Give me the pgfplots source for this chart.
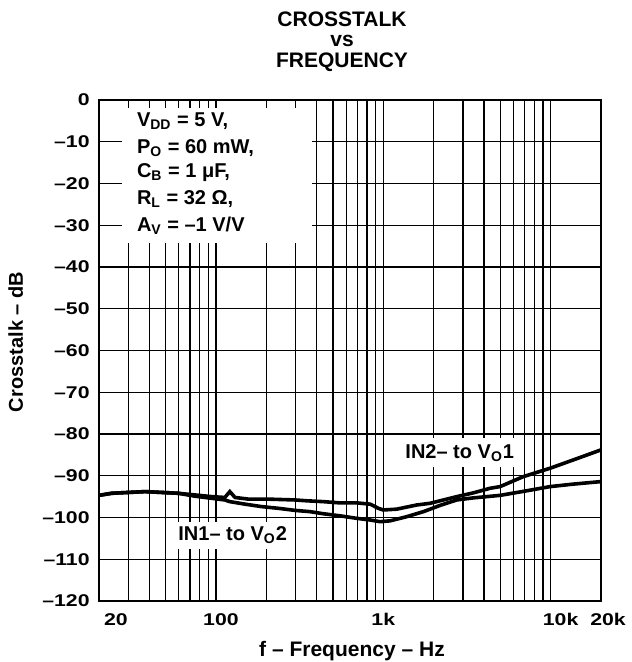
\documentclass[border=0pt]{standalone}
\usepackage{pgfplots}
\pgfplotsset{compat=1.18}
\usepackage{pgfplotstable}
\usepackage{fontspec}
\setmainfont{Liberation Sans}
\newfontfamily\tickfont{Liberation Sans}[FakeStretch=1.25]

% IN2- to VO1 (upper curve in the mid band, highest at 20 kHz)
\pgfplotstableread{
f y
20 -94.7
23.8 -94.2
29.9 -94.0
37.7 -93.8
47.4 -94.0
59.6 -94.2
75 -94.6
94.3 -95.0
113 -95.2
121 -93.8
130 -95.2
156 -95.6
206 -95.6
297 -95.8
349 -96.0
438 -96.2
551 -96.5
694 -96.5
834 -96.8
934 -97.8
1001 -98.2
1203 -98.0
1585 -97.0
1903 -96.6
2184 -96.0
2748 -95.0
3454 -94.1
4347 -93.0
4988 -92.6
6876 -90.2
9928 -88.2
13678 -86.2
20000 -83.8
}\curveA

% IN1- to VO2 (lower curve in the mid band)
\pgfplotstableread{
f y
20 -94.7
23.8 -94.2
29.9 -94.0
37.7 -93.8
47.4 -94.0
59.6 -94.2
75 -94.9
94.3 -95.4
113 -95.8
121 -96.2
149 -96.8
188 -97.4
236 -97.8
297 -98.3
365 -98.6
438 -99.1
551 -99.6
694 -100.2
834 -100.6
956 -101.0
1098 -100.8
1381 -99.8
1736 -98.6
2184 -97.1
2748 -95.8
3454 -95.3
4988 -94.7
7204 -93.6
9928 -92.6
13678 -92.0
20000 -91.4
}\curveB

\begin{document}
\begin{tikzpicture}
\useasboundingbox (-49.5pt,-30.5pt) rectangle (266pt,300.5pt);
\begin{axis}[
  at={(0,0)}, anchor=south west,
  scale only axis, width=251pt, height=250.5pt,
  xmode=log, xmin=20, xmax=20000, ymin=-120, ymax=0,
  xtick={20,100,1000,10000,20000},
  xticklabels={\makebox[0pt]{\hspace*{17pt}20},\makebox[0pt]{\hspace*{5pt}100},\makebox[0pt]{1k},\makebox[0pt]{\hspace*{10pt}10k},\makebox[0pt]{\hspace*{7pt}20k}},
  minor xtick={30,40,50,60,70,80,90,200,300,400,500,600,700,800,900,2000,3000,4000,5000,6000,7000,8000,9000},
  ytick={-120,-110,...,0},
  yticklabels={–120,–110,–100,–90,–80,–70,–60,–50,–40,–30,–20,–10,0},
  grid=both,
  major grid style={black, line width=0.65pt},
  minor grid style={black, line width=0.65pt},
  major tick length=0pt, minor tick length=0pt,
  axis line style={line width=1.2pt},
  tick label style={font=\tickfont\bfseries\fontsize{8.5}{8.5}\selectfont},
  xticklabel style={anchor=north, inner sep=0pt, yshift=-6pt},
  yticklabel style={anchor=east, inner sep=0pt, xshift=-4.5pt},
]
\fill[white] (axis cs:27.4,-34.3) rectangle (axis cs:375,-1.9);
\addplot[black, line width=1.8pt, mark=none] table[x=f, y=y] {\curveA};
\addplot[black, line width=1.8pt, mark=none] table[x=f, y=y] {\curveB};
\node[fill=white, anchor=base west, inner xsep=1.5pt, inner ysep=2.5pt, font=\bfseries\fontsize{10}{10}\selectfont] at (axis cs:56.9,-105.56) {IN1– to V\textsubscript{O}2};
\node[fill=white, anchor=base west, inner xsep=2.5pt, inner ysep=3pt, font=\bfseries\fontsize{10}{10}\selectfont] at (axis cs:1259,-85.75) {IN2– to V\textsubscript{O}1};
\end{axis}
% legend text
\begin{scope}[every node/.style={anchor=base west, inner sep=0pt, font=\bfseries\fontsize{10}{10}\selectfont}]
\node at (18.8pt,237.2pt) {V\textsubscript{DD} = 5 V,};
\node at (18.8pt,223.5pt) {P\textsubscript{O} = 60 mW,};
\node at (18.8pt,211.5pt) {C\textsubscript{B} = 1 μF,};
\node at (18.8pt,198pt) {R\textsubscript{L} = 32 Ω,};
\node at (18.8pt,184.7pt) {A\textsubscript{V} = –1 V/V};
\end{scope}
% titles
\begin{scope}[every node/.style={anchor=base, inner sep=0pt, font=\bfseries\fontsize{10.5}{10.5}\selectfont}]
\node at (121.5pt,287pt) {CROSSTALK};
\node at (121.5pt,277pt) {vs};
\node at (121.5pt,266.5pt) {FREQUENCY};
\end{scope}
\node[anchor=base, inner sep=0pt, font=\bfseries\fontsize{10.5}{10.5}\selectfont] at (126.5pt,-27.5pt) {f – Frequency – Hz};
\node[anchor=base, inner sep=0pt, rotate=90, font=\bfseries\fontsize{10}{10}\selectfont] at (-38pt,129.5pt) {Crosstalk – dB};
\end{tikzpicture}
\end{document}
